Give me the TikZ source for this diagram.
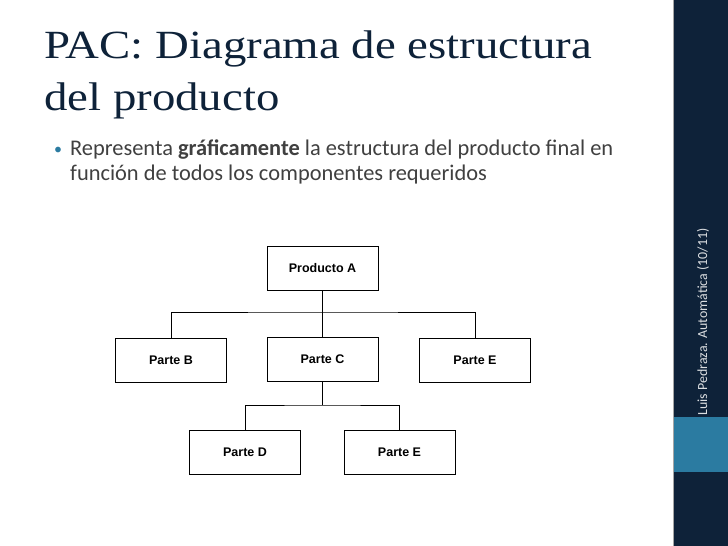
\documentclass[tikz,border=0pt]{standalone}
\usepackage{fontspec}
\setmainfont{Liberation Serif}
\newfontfamily\titlefont[FakeStretch=1.17]{Liberation Serif}
\newfontfamily\carfont{Carlito}
\newfontfamily\arifont{Liberation Sans}
\definecolor{navy}{HTML}{0E2239}
\definecolor{tealc}{HTML}{2B7BA1}
\definecolor{txt}{HTML}{404040}
\begin{document}
\begin{tikzpicture}[x=1pt,y=-1pt,
  bx/.style={draw,line width=0.8pt,minimum width=111pt,minimum height=44pt,font=\arifont\bfseries\fontsize{12.5}{14}\selectfont,inner sep=0},
  ln/.style={line width=0.8pt}]
\useasboundingbox (0,0) rectangle (728,546);
\fill[white] (0,0) rectangle (728,546);
\fill[navy] (673,0) rectangle (728,546);
\draw[gray!70,line width=1pt] (673,0) -- (673,546);
\fill[tealc] (674,417) rectangle (728,472);
\node[rotate=90,text=white!85!navy,font=\carfont\fontsize{13.9}{16}\selectfont] (side) at (703,322) {Luis Pedraza. Automática (10/11)};
\node[anchor=base west,text=navy,font=\titlefont\fontsize{40}{44}\selectfont,inner sep=0] (t1) at (44,58) {PAC: Diagrama de estructura};
\node[anchor=base west,text=navy,font=\titlefont\fontsize{40}{44}\selectfont,inner sep=0] (t2) at (44,110) {del producto};
\node[anchor=base west,text=tealc,font=\carfont\fontsize{16}{18}\selectfont,inner sep=0] (bul) at (54,154) {•};
\node[anchor=base west,text=txt,font=\carfont\fontsize{22.4}{26}\selectfont,inner sep=0] (l1) at (70,155) {Representa \textbf{gráficamente} la estructura del producto final en};
\node[anchor=base west,text=txt,font=\carfont\fontsize{22.4}{26}\selectfont,inner sep=0] (l2) at (70,180) {función de todos los componentes requeridos};
\node[bx] (A) at (322.5,268) {Producto A};
\node[bx] (B) at (171,360) {Parte B};
\node[bx] (C) at (322.5,359) {Parte C};
\node[bx] (E) at (475,360) {Parte E};
\node[bx] (D) at (245,452.5) {Parte D};
\node[bx] (E2) at (399.5,452.5) {Parte E};
\draw[ln] (A.south) -- (C.north);
\draw[ln] (B.north) |- (322.5,312) -| (E.north);
\draw[ln] (C.south) -- (322.5,405);
\draw[ln] (D.north) |- (322.5,405) -| (E2.north);
\end{tikzpicture}
\end{document}
